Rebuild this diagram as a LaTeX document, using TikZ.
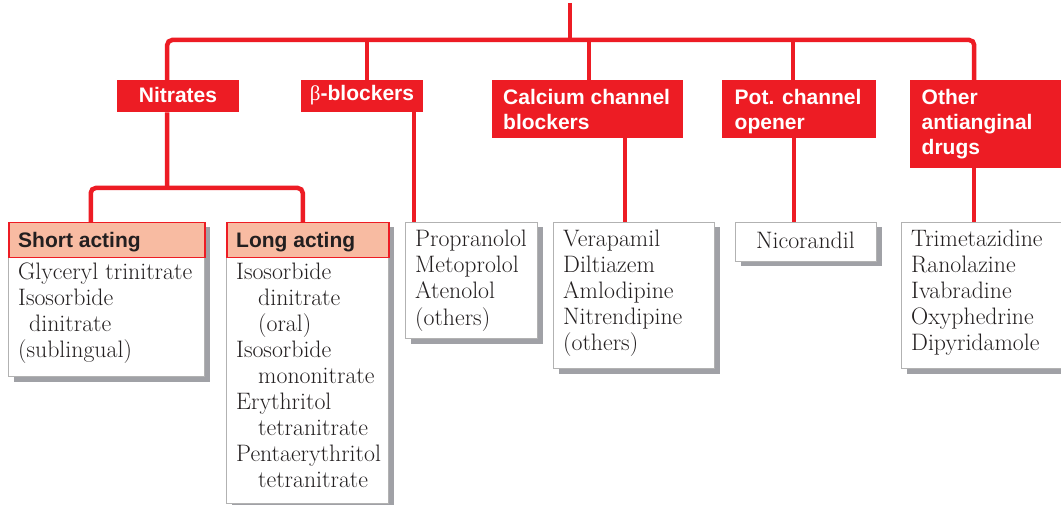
\documentclass[tikz,border=0pt]{standalone}
\usepackage{fontspec}
\newfontfamily\hsans{Liberation Sans}
\newfontfamily\grk{Liberation Serif}
\usetikzlibrary{shadows}
\definecolor{myred}{RGB}{237,28,36}
\definecolor{salmon}{RGB}{248,187,162}
\definecolor{shadowgray}{RGB}{160,161,166}
\definecolor{boxgray}{RGB}{178,178,178}
\definecolor{darktext}{RGB}{35,31,32}
\begin{document}
\begin{tikzpicture}[x=1pt,y=-1pt,
  conn/.style={draw=myred,line width=4.5pt,rounded corners=5pt},
  head/.style={fill=myred,inner sep=0,anchor=north west},
  headtxt/.style={text=white,font=\hsans\bfseries\fontsize{21}{25}\selectfont,inner sep=0,anchor=base west,align=left},
  listbox/.style={draw=boxgray,line width=1pt,fill=white,inner sep=0,anchor=north west,
    general shadow={fill=shadowgray,shadow xshift=5pt,shadow yshift=-5pt}},
  subhead/.style={draw=myred,line width=1.5pt,fill=salmon,inner sep=0,anchor=north west},
  subtxt/.style={text=darktext,font=\hsans\bfseries\fontsize{21}{25}\selectfont,inner sep=0,anchor=base west},
  listtxt/.style={text=darktext,font=\fontsize{23.8}{26}\selectfont,inner sep=0,anchor=base west,align=left}
]
\useasboundingbox (0,0) rectangle (1061,505);
\fill[white] (0,0) rectangle (1061,505);

% category header boxes
\node[head,minimum width=122pt,minimum height=32pt] (nit) at (117,80) {};
\node[head,minimum width=122pt,minimum height=32pt] (beta) at (301,80) {};
\node[head,minimum width=191pt,minimum height=58pt] (ccb) at (492,80) {};
\node[head,minimum width=154pt,minimum height=58pt] (pot) at (722,80) {};
\node[head,minimum width=153pt,minimum height=88pt] (oth) at (910,80) {};

% (anchor base = baseline of the last line)
\node[headtxt,anchor=base] (nitT) at (178,103) {Nitrates};
\node[headtxt,anchor=base] (betaT) at (362,101) {{\grk\mdseries β}-blockers};
\node[headtxt] (ccbT) at (503,129.5) {Calcium channel\\blockers};
\node[headtxt] (potT) at (734.5,129.5) {Pot. channel\\opener};
\node[headtxt] (othT) at (921.5,154.5) {Other\\antianginal\\drugs};

% list boxes
\node[listbox,minimum width=196pt,minimum height=154pt] (short) at (8,222) {};
\node[subhead,minimum width=196pt,minimum height=35pt] (shortH) at (8,222) {};
\node[subtxt] (shortT) at (18,248) {Short acting};
\node[listtxt] (shortL) at (18,357) {Glyceryl trinitrate\\Isosorbide\\\hspace*{11pt}dinitrate\\(sublingual)};

\node[listbox,minimum width=162pt,minimum height=281pt] (long) at (226,222) {};
\node[subhead,minimum width=162pt,minimum height=35pt] (longH) at (226,222) {};
\node[subtxt] (longT) at (236,248) {Long acting};
\node[listtxt] (longL) at (236,487) {Isosorbide\\\hspace*{22pt}dinitrate\\\hspace*{22pt}(oral)\\Isosorbide\\\hspace*{22pt}mononitrate\\Erythritol\\\hspace*{22pt}tetranitrate\\Pentaerythritol\\\hspace*{22pt}tetranitrate};

\node[listbox,minimum width=132pt,minimum height=116pt] (prop) at (405,222) {};
\node[listtxt] (propL) at (415,325) {Propranolol\\Metoprolol\\Atenolol\\(others)};

\node[listbox,minimum width=161pt,minimum height=146pt] (ccbl) at (553,222) {};
\node[listtxt] (ccbL) at (563,350) {Verapamil\\Diltiazem\\Amlodipine\\Nitrendipine\\(others)};

\node[listbox,minimum width=141pt,minimum height=39pt] (nic) at (735,222) {};
\node[listtxt,anchor=base] (nicL) at (805.5,249) {Nicorandil};

\node[listbox,minimum width=162pt,minimum height=146pt] (othl) at (901,222) {};
\node[listtxt] (othL) at (911,350) {Trimetazidine\\Ranolazine\\Ivabradine\\Oxyphedrine\\Dipyridamole};

% connectors
\coordinate (root) at (570,3);
\coordinate (bus) at (570,40);
\draw[conn] (root) -- (bus);
\draw[conn] ([xshift=-11pt]nit.north) -- ++(0,-40) -| ([xshift=-12.5pt]oth.north);
\draw[conn] ([xshift=5pt]beta.north) -- ([xshift=5pt]beta.north |- bus);
\draw[conn] ([xshift=1.5pt]ccb.north) -- ([xshift=1.5pt]ccb.north |- bus);
\draw[conn] ([xshift=-6pt]pot.north) -- ([xshift=-6pt]pot.north |- bus);

\coordinate (nitsplit) at (167,188);
\draw[conn] ([xshift=-11pt]nit.south) -- (nitsplit);
\draw[conn] ([xshift=-16pt]shortH.north) |- (nitsplit) -| ([xshift=-5pt]longH.north);
\draw[conn] ([xshift=52pt]beta.south) -- ([xshift=52pt]beta.south |- prop.north);
\draw[conn] ([xshift=37.5pt]ccb.south) -- ([xshift=37.5pt]ccb.south |- ccbl.north);
\draw[conn] ([xshift=-5pt]pot.south) -- ([xshift=-5pt]pot.south |- nic.north);
\draw[conn] ([xshift=-12.5pt]oth.south) -- ([xshift=-12.5pt]oth.south |- othl.north);
\end{tikzpicture}
\end{document}
